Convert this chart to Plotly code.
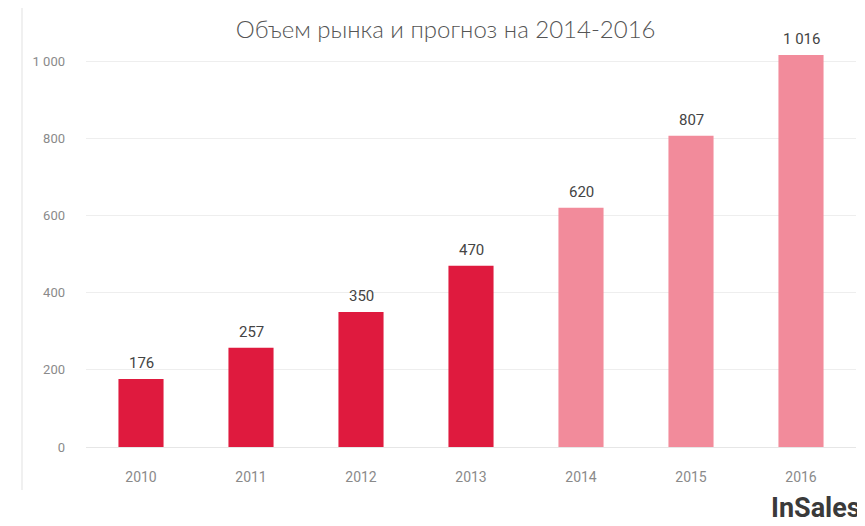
import plotly.graph_objects as go

years = ["2010", "2011", "2012", "2013", "2014", "2015", "2016"]
values = [176, 257, 350, 470, 620, 807, 1016]
is_forecast = [False, False, False, False, True, True, True]
y_ticks = [0, 200, 400, 600, 800, 1000]

title_text = "Объем рынка и прогноз на 2014-2016"
logo_text = "InSales"

RED = "#DF1A3E"
PINK = "#F28B9B"
colors = [PINK if f else RED for f in is_forecast]

L, R, T, B = 78, 17, 34, 87  # page has an 8px body margin
W, H = 865, 526
plot_w = W - L - R
plot_h = H - T - B

fig = go.Figure()
fig.add_trace(go.Bar(
    x=years, y=values, marker=dict(color=colors, line=dict(width=0)),
    hoverinfo="skip",
))

annotations = []
for i, v in enumerate(values):
    annotations.append(dict(
        x=i, y=v, xref="x", yref="y",
        text=f"{v:,}".replace(",", " "), showarrow=False,
        yanchor="bottom", yshift=5,
        font=dict(family="Roboto, sans-serif", size=15, color="#444444"),
    ))

annotations.append(dict(
    x=1.009, xref="paper", y=-0.106, yref="paper", xanchor="right", yanchor="top",
    text=f"<b>{logo_text}</b>", showarrow=False,
    font=dict(family="Roboto, sans-serif", size=27, color="#3A3A3A"),
))

fig.update_layout(
    width=W, height=H,
    margin=dict(l=L, r=R, t=T, b=B),
    paper_bgcolor="white", plot_bgcolor="white",
    separators=", ",
    showlegend=False,
    bargap=0.59,
    title=dict(
        text=title_text, x=0.506, xanchor="center", y=0.958, yanchor="middle",
        font=dict(family="Lato, Open Sans, sans-serif", size=24, color="#555555", weight=300),
    ),
    xaxis=dict(
        type="category", range=[-0.5, 6.5], showgrid=False, zeroline=False,
        showline=False, ticks="", ticklabelstandoff=20,
        tickfont=dict(family="Roboto, sans-serif", size=14, color="#8a8a8a"),
    ),
    yaxis=dict(
        range=[0, 1050], tickvals=y_ticks, tickformat=",d",
        showgrid=True, gridcolor="#EEEEEE", gridwidth=1,
        zeroline=True, zerolinecolor="#E6E6E6", zerolinewidth=1,
        showline=False, ticks="", ticklabelstandoff=20,
        tickfont=dict(family="Roboto, sans-serif", size=13, color="#8a8a8a"),
    ),
    shapes=[dict(
        type="line", xref="paper", yref="paper",
        x0=(14 - L) / plot_w, x1=(14 - L) / plot_w, y0=-0.106, y1=1.10,
        line=dict(color="#EBEBEB", width=1.5),
    )],
    annotations=annotations,
)

fig.write_html("out.html")
